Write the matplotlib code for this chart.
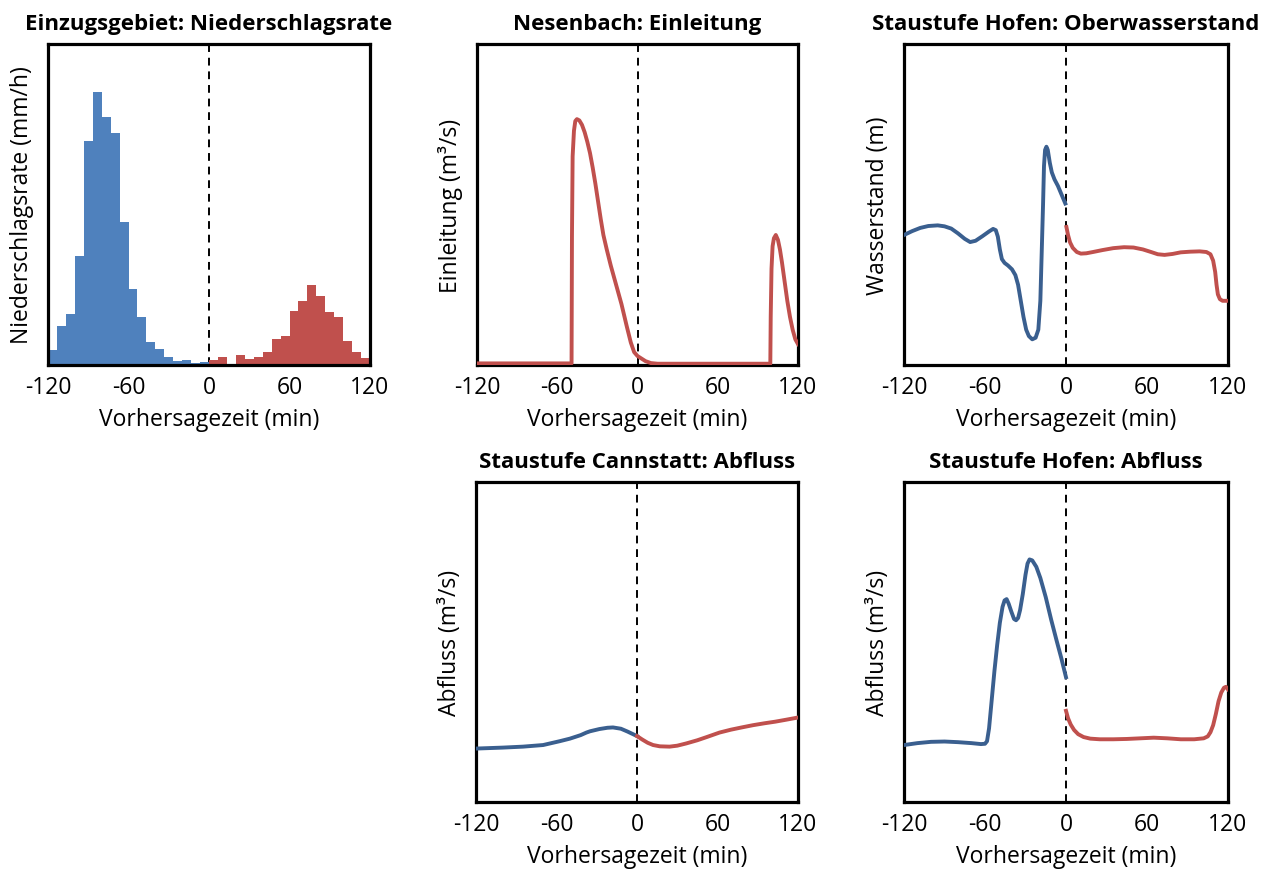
import numpy as np
import matplotlib
matplotlib.use("Agg")
import matplotlib.pyplot as plt

plt.rcParams['font.family'] = ['Open Sans', 'DejaVu Sans']

BLUE_BAR = '#4F81BD'
RED_BAR = '#C0504D'
BLUE_LINE = '#3A5F8F'
RED_LINE = '#C0504D'

TICKS = [-120, -60, 0, 60, 120]
TICK_LABELS = ['-120', '-60', '0', '60', '120']
XLABEL = 'Vorhersagezeit (min)'

# --- Einzugsgebiet: Niederschlagsrate (relative rain rate per 6.67-min bin) ---
rain_past = [0.048, 0.123, 0.159, 0.339, 0.697, 0.849, 0.772, 0.723, 0.447,
             0.237, 0.151, 0.071, 0.050, 0.024, 0.014, 0.017, 0.006, 0.008]
rain_fcst = [0.016, 0.026, 0.0, 0.032, 0.019, 0.024, 0.042, 0.081, 0.091,
             0.167, 0.200, 0.250, 0.216, 0.164, 0.148, 0.076, 0.039, 0.021]

# --- Nesenbach: Einleitung (forecast) ---
einl_t = [-120, -49.3, -49.0, -48.5, -47.5, -46.5, -45.3, -43.5, -41.5, -39.5,
          -37.5, -35.5, -33.5, -31.5, -29.5, -27.5, -25.5, -23, -20, -16, -12,
          -8, -5, -2.5, 0, 3, 6, 10, 15, 99.3, 99.6, 100.2, 101, 102, 103.4,
          105, 106.5, 108, 110, 112, 114, 116, 118, 120]
einl_v = [0.005, 0.005, 0.40, 0.65, 0.73, 0.76, 0.766, 0.762, 0.748, 0.725,
          0.695, 0.66, 0.615, 0.565, 0.51, 0.455, 0.405, 0.36, 0.31, 0.25,
          0.19, 0.12, 0.07, 0.04, 0.028, 0.02, 0.012, 0.006, 0.004, 0.004,
          0.15, 0.30, 0.37, 0.395, 0.405, 0.39, 0.36, 0.32, 0.26, 0.20, 0.15,
          0.11, 0.08, 0.065]

# --- Staustufe Hofen: Oberwasserstand ---
hofen_ow_obs_t = [-120, -114, -108, -102, -95, -90, -85, -80, -75, -71, -67, -62,
                  -57, -54, -52, -50.5, -49, -47.5, -45.5, -43, -40, -37.5, -35.5,
                  -33.5, -31.5, -29.5, -27.5, -25, -22.5, -20.5, -19, -18, -17,
                  -16.3, -15.5, -14.5, -13.5, -12, -10.5, -8.5, -6, -3, -0.5]
hofen_ow_obs_v = [0.405, 0.417, 0.427, 0.433, 0.435, 0.432, 0.425, 0.41, 0.393,
                  0.383, 0.387, 0.401, 0.416, 0.424, 0.42, 0.40, 0.36, 0.33,
                  0.318, 0.31, 0.298, 0.28, 0.25, 0.20, 0.15, 0.11, 0.09, 0.08,
                  0.085, 0.11, 0.20, 0.35, 0.50, 0.62, 0.67, 0.68, 0.67, 0.63,
                  0.60, 0.578, 0.558, 0.528, 0.503]
hofen_ow_fc_t = [0.3, 1.5, 3, 5, 8, 11, 15, 20, 27, 35, 43, 50, 57, 63, 68, 73,
                 79, 85, 92, 99, 104, 107, 109, 110.5, 111.5, 112.5, 114, 116, 120]
hofen_ow_fc_v = [0.43, 0.405, 0.382, 0.365, 0.352, 0.347, 0.348, 0.352, 0.358,
                 0.364, 0.367, 0.366, 0.36, 0.352, 0.345, 0.343, 0.346, 0.351,
                 0.353, 0.354, 0.352, 0.345, 0.325, 0.29, 0.25, 0.22, 0.205,
                 0.20, 0.20]

# --- Staustufe Cannstatt: Abfluss ---
cann_obs_t = [-120, -100, -85, -70, -57.6, -50, -42, -37.7, -35, -28, -22, -17.9,
              -12, -7, -3, 0]
cann_obs_v = [0.167, 0.17, 0.173, 0.178, 0.19, 0.198, 0.209, 0.217, 0.221, 0.228,
              0.232, 0.233, 0.229, 0.22, 0.212, 0.206]
cann_fc_t = [0, 4, 8, 12, 17, 24.3, 30, 36.7, 45, 52, 61.5, 70, 78, 86.4, 95,
             103, 111, 120]
cann_fc_v = [0.206, 0.195, 0.185, 0.178, 0.174, 0.173, 0.176, 0.183, 0.193,
             0.203, 0.217, 0.226, 0.233, 0.240, 0.246, 0.251, 0.257, 0.264]

# --- Staustufe Hofen: Abfluss ---
hofen_q_obs_t = [-120, -110, -100, -90, -80, -70, -63, -60, -58.5, -57, -55, -53,
                 -51, -49, -47, -45.5, -44, -42.5, -40.5, -38.5, -37, -35.5, -34,
                 -32, -30, -28.5, -27, -25, -22, -19, -15, -11, -7, -3.5, 0]
hofen_q_obs_v = [0.178, 0.184, 0.188, 0.189, 0.187, 0.184, 0.181, 0.182, 0.19,
                 0.23, 0.32, 0.41, 0.49, 0.56, 0.61, 0.63, 0.634, 0.62, 0.595,
                 0.572, 0.568, 0.575, 0.60, 0.65, 0.71, 0.745, 0.758, 0.755,
                 0.735, 0.70, 0.64, 0.57, 0.505, 0.45, 0.39]
hofen_q_fc_t = [0, 1.5, 3.5, 6, 9, 13, 18, 25, 35, 45, 55, 65, 75, 85, 95, 102,
                105, 107, 109, 111, 113, 115, 117, 118.5, 120]
hofen_q_fc_v = [0.285, 0.262, 0.242, 0.225, 0.212, 0.203, 0.198, 0.196, 0.196,
                0.197, 0.199, 0.201, 0.199, 0.196, 0.196, 0.199, 0.205, 0.218,
                0.24, 0.275, 0.315, 0.342, 0.357, 0.36, 0.352]

W, H = 1263, 870
fig = plt.figure(figsize=(W / 100, H / 100), dpi=100)


def make_axes(left, top, right, bottom):
    return fig.add_axes([left / W, 1 - bottom / H, (right - left) / W, (bottom - top) / H])


def style(ax, title, ylabel):
    ax.set_xlim(-120, 120)
    ax.set_ylim(0, 1)
    ax.set_xticks(TICKS)
    ax.set_xticklabels(TICK_LABELS)
    ax.set_yticks([])
    ax.tick_params(axis='x', length=0, pad=7, labelsize=16.5)
    for s in ax.spines.values():
        s.set_linewidth(2.3)
        s.set_color('black')
    ax.axvline(0, color='black', lw=1.4, ls=(0, (4, 3)), zorder=1)
    ax.set_title(title, fontsize=16.0, fontweight='bold', pad=11)
    ax.set_ylabel(ylabel, fontsize=16.5, labelpad=10)
    ax.set_xlabel(XLABEL, fontsize=16.5, labelpad=6)


ax1 = make_axes(48, 45, 370, 366)
ax2 = make_axes(477, 45, 798, 366)
ax3 = make_axes(904, 45, 1228, 366)
ax4 = make_axes(476, 483, 798, 803)
ax5 = make_axes(904, 483, 1228, 803)

# precipitation histogram
nb = len(rain_past)
width = 120 / nb
left_past = -120 + width * np.arange(nb)
left_fcst = width * np.arange(len(rain_fcst))
ax1.bar(left_past, rain_past, width=width, align='edge', color=BLUE_BAR, lw=0, zorder=2)
ax1.bar(left_fcst, rain_fcst, width=width, align='edge', color=RED_BAR, lw=0, zorder=2)
style(ax1, 'Einzugsgebiet: Niederschlagsrate', 'Niederschlagsrate (mm/h)')

LW = 2.8
ax2.plot(einl_t, einl_v, color=RED_LINE, lw=LW, solid_joinstyle='round', zorder=3)
style(ax2, 'Nesenbach: Einleitung', 'Einleitung (m³/s)')

ax3.plot(hofen_ow_obs_t, hofen_ow_obs_v, color=BLUE_LINE, lw=LW, solid_joinstyle='round', zorder=3)
ax3.plot(hofen_ow_fc_t, hofen_ow_fc_v, color=RED_LINE, lw=LW, solid_joinstyle='round', zorder=3)
style(ax3, 'Staustufe Hofen: Oberwasserstand', 'Wasserstand (m)')

ax4.plot(cann_obs_t, cann_obs_v, color=BLUE_LINE, lw=LW, solid_joinstyle='round', zorder=3)
ax4.plot(cann_fc_t, cann_fc_v, color=RED_LINE, lw=LW, solid_joinstyle='round', zorder=3)
style(ax4, 'Staustufe Cannstatt: Abfluss', 'Abfluss (m³/s)')

ax5.plot(hofen_q_obs_t, hofen_q_obs_v, color=BLUE_LINE, lw=LW, solid_joinstyle='round', zorder=3)
ax5.plot(hofen_q_fc_t, hofen_q_fc_v, color=RED_LINE, lw=LW, solid_joinstyle='round', zorder=3)
style(ax5, 'Staustufe Hofen: Abfluss', 'Abfluss (m³/s)')

fig.savefig('out.png', dpi=100, facecolor='white')
